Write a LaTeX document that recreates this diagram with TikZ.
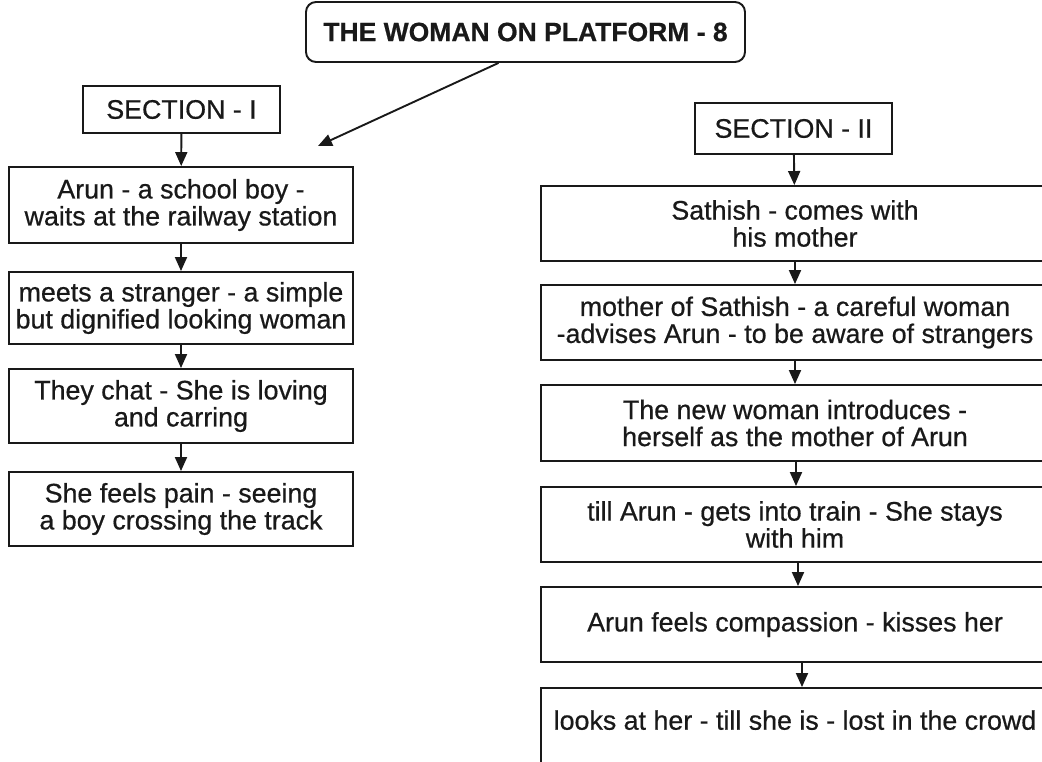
\documentclass[tikz,border=0pt]{standalone}
\usepackage{fontspec}
\setmainfont{Liberation Sans}[FakeBold=0.6]
\usetikzlibrary{arrows.meta}
\begin{document}
\begin{tikzpicture}[x=1pt,y=-1pt,
  box/.style={draw=black!90, line width=1.9pt, align=center, inner sep=0pt,
    font=\fontsize{26.8}{27}\selectfont, text=black!90},
  lbox/.style={box, minimum width=344pt},
  rbox/.style={box, minimum width=508pt, minimum height=75pt},
  secbox/.style={box, minimum width=197pt},
  titlebox/.style={box, rounded corners=10pt, minimum width=439pt, minimum height=60pt,
    font=\fontsize{26.5}{28}\selectfont\bfseries},
  arr/.style={draw=black!90, -{Triangle[length=14pt,width=12pt]}, line width=1.9pt}]
\useasboundingbox (0,0) rectangle (1042,762);
\fill[white] (0,0) rectangle (1042,762);

\node[titlebox] (title) at (525.5,32) {THE WOMAN ON PLATFORM - 8};
\coordinate (t1) at (318,146);

\node[secbox, minimum height=47pt] (s1) at (181.5,109.5) {SECTION - I};
\node[lbox, minimum height=76pt] (l1) at (181,205) {Arun - a school boy -\\waits at the railway station};
\node[lbox, minimum height=72pt] (l2) at (181,308) {meets a stranger - a simple\\but dignified looking woman};
\node[lbox, minimum height=74pt] (l3) at (181,406) {They chat - She is loving\\and carring};
\node[lbox, minimum height=74pt] (l4) at (181,509) {She feels pain - seeing\\a boy crossing the track};

\node[secbox, minimum height=51pt] (s2) at (793.5,128.5) {SECTION - II};
\node[rbox] (r1) at (795,223.5) {Sathish - comes with\\his mother};
\node[rbox] (r2) at (795,322.5) {mother of Sathish - a careful woman\\-advises Arun - to be aware of strangers};
\node[rbox, minimum height=76pt] (r3) at (795,423) {The new woman introduces -\\herself as the mother of Arun};
\node[rbox] (r4) at (795,524.5) {till Arun - gets into train - She stays\\with him};
\node[rbox] (r5) at (795,624.5) {Arun feels compassion - kisses her};
\node[rbox] (r6) at (795,725.5) {\raisebox{11pt}{looks at her - till she is - lost in the crowd}};

\draw[arr] ([xshift=-27pt]title.south) -- (t1);
\draw[arr] (s1) -- (l1);
\draw[arr] (l1) -- (l2);
\draw[arr] (l2) -- (l3);
\draw[arr] (l3) -- (l4);
\draw[arr] (s2) -- (r1);
\draw[arr] (r1) -- (r2);
\draw[arr] (r2) -- (r3);
\draw[arr] ([xshift=1pt]r3.south) -- ([xshift=1pt]r4.north);
\draw[arr] ([xshift=3pt]r4.south) -- ([xshift=3pt]r5.north);
\draw[arr] ([xshift=7pt]r5.south) -- ([xshift=7pt]r6.north);
\end{tikzpicture}
\end{document}
